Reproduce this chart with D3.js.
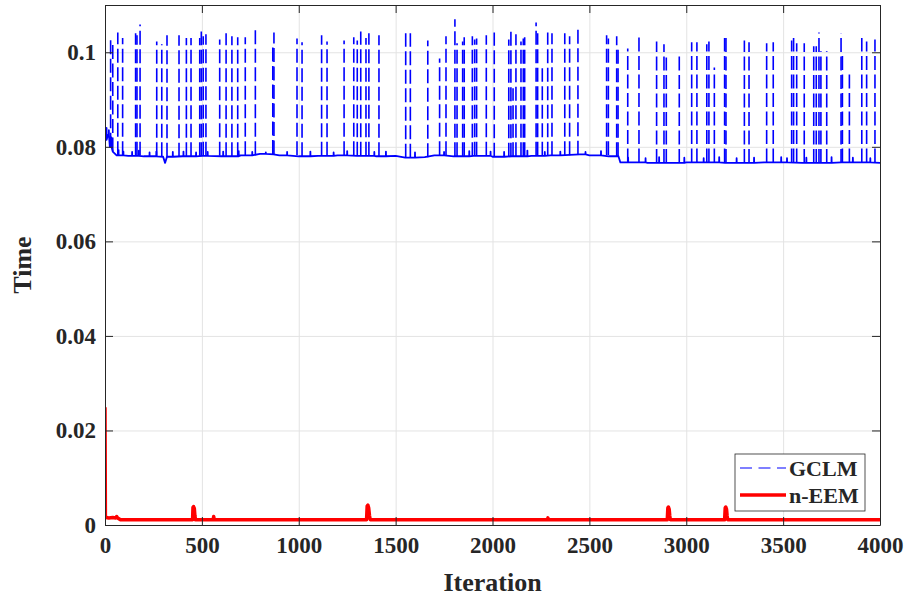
<!DOCTYPE html>
<html>
<head>
<meta charset="utf-8">
<script src="https://cdn.jsdelivr.net/npm/d3@7"></script>
<style>
  body { margin: 0; background: #fff; }
  svg { display: block; }
  text { font-family: "Liberation Serif", "Times New Roman", serif; font-weight: bold; fill: #262626; }
</style>
</head>
<body>
<svg id="chart" width="909" height="600"></svg>
<script>
// GCLM baseline readings (iteration, time)
const gclmBaseIter = [0, 15, 25, 40, 60, 120, 200, 300, 310, 320, 400, 500, 600, 700, 800, 870, 900, 1000, 1100, 1200, 1300, 1400, 1500, 1550, 1650, 1700, 1800, 1900, 2000, 2100, 2200, 2300, 2400, 2450, 2500, 2600, 2650, 2660, 2800, 3000, 3200, 3400, 3600, 3800, 4000];
const gclmBaseVal  = [0.0815, 0.0825, 0.0800, 0.0790, 0.0782, 0.0781, 0.0780, 0.0779, 0.0766, 0.0779, 0.0780, 0.0781, 0.0780, 0.0782, 0.0785, 0.0784, 0.0782, 0.0780, 0.0781, 0.0782, 0.0781, 0.0780, 0.0781, 0.0777, 0.0778, 0.0782, 0.0780, 0.0781, 0.0779, 0.0780, 0.0781, 0.0782, 0.0783, 0.0784, 0.0782, 0.0780, 0.0780, 0.0767, 0.0766, 0.0767, 0.0766, 0.0767, 0.0766, 0.0767, 0.0766];

// small bumps riding on the GCLM baseline
const gclmBlipIter = [8, 20, 33, 70, 95, 140, 175, 230, 265, 350, 405, 470, 530, 610, 690, 760, 830, 940, 1060, 1180, 1250, 1390, 1450, 1600, 1750, 1880, 1990, 2060, 2180, 2270, 2350, 2480, 2560, 2700, 2790, 2860, 2990, 3090, 3170, 3260, 3350, 3490, 3520, 3620, 3750, 3860, 3950];
const gclmBlipVal  = [0.0840, 0.0835, 0.0820, 0.0793, 0.0790, 0.0789, 0.0792, 0.0788, 0.0790, 0.0789, 0.0790, 0.0788, 0.0789, 0.0790, 0.0791, 0.0789, 0.0788, 0.0789, 0.0790, 0.0788, 0.0791, 0.0789, 0.0790, 0.0788, 0.0789, 0.0791, 0.0790, 0.0789, 0.0792, 0.0789, 0.0790, 0.0789, 0.0791, 0.0777, 0.0776, 0.0778, 0.0777, 0.0776, 0.0778, 0.0776, 0.0777, 0.0778, 0.0776, 0.0777, 0.0778, 0.0777, 0.0776];

// large GCLM spikes (iteration, peak time)
const gclmSpikeIter = [1, 29, 40, 66, 91, 158, 165, 181, 267, 293, 320, 382, 420, 444, 489, 497, 507, 521, 592, 625, 655, 685, 724, 776, 866, 872, 991, 1017, 1118, 1146, 1234, 1284, 1302, 1320, 1347, 1362, 1414, 1552, 1576, 1666, 1727, 1760, 1806, 1817, 1846, 1854, 1896, 1908, 1918, 1968, 2009, 2084, 2095, 2106, 2121, 2147, 2159, 2166, 2225, 2233, 2257, 2285, 2307, 2373, 2398, 2441, 2589, 2598, 2641, 2648, 2698, 2756, 2847, 2885, 2897, 2964, 3028, 3055, 3106, 3117, 3145, 3198, 3205, 3300, 3324, 3415, 3449, 3544, 3554, 3570, 3609, 3658, 3671, 3685, 3695, 3725, 3799, 3806, 3842, 3906, 3931, 3974];
const gclmSpikePeak = [0.1100, 0.1030, 0.1019, 0.1042, 0.1030, 0.1040, 0.1036, 0.1059, 0.1023, 0.1017, 0.1036, 0.1036, 0.1030, 0.1030, 0.1030, 0.1044, 0.1034, 0.1038, 0.1027, 0.1040, 0.1034, 0.1032, 0.1032, 0.1049, 0.1019, 0.1042, 0.1029, 0.1021, 0.1036, 0.1023, 0.1025, 0.1032, 0.1025, 0.1044, 0.1030, 0.1040, 0.1036, 0.1040, 0.1040, 0.1025, 0.0987, 0.1034, 0.1070, 0.1019, 0.1023, 0.1032, 0.1034, 0.1027, 0.1029, 0.1036, 0.1042, 0.1027, 0.1049, 0.0924, 0.1038, 0.1023, 0.1029, 0.1032, 0.1063, 0.1040, 0.0966, 0.1042, 0.1040, 0.1040, 0.1034, 0.1051, 0.1036, 0.1029, 0.1034, 0.1011, 0.1008, 0.1032, 0.1023, 0.1017, 0.0989, 0.0996, 0.1021, 0.1021, 0.1017, 0.1023, 0.0968, 0.1030, 0.1032, 0.1025, 0.1021, 0.1019, 0.1021, 0.1025, 0.1030, 0.1019, 0.1019, 0.1013, 0.1013, 0.1042, 0.1002, 0.1002, 0.1040, 0.1000, 0.0960, 0.1030, 0.1023, 0.1027];

// n-EEM readings (iteration, time)
const neemIter = [0, 2, 5, 20, 40, 55, 60, 65, 80, 300, 452, 454, 457, 461, 464, 467, 558, 561, 564, 1000, 1350, 1353, 1357, 1361, 1365, 1369, 2283, 2286, 2289, 2902, 2905, 2908, 2912, 2915, 2918, 3198, 3201, 3204, 3208, 3211, 3214, 4000];
const neemVal  = [0.0249, 0.0020, 0.0016, 0.0015, 0.0016, 0.0015, 0.0018, 0.0015, 0.0011, 0.0011, 0.0011, 0.0037, 0.0039, 0.0035, 0.0020, 0.0011, 0.0011, 0.0018, 0.0011, 0.0011, 0.0011, 0.0040, 0.0042, 0.0036, 0.0020, 0.0011, 0.0011, 0.0015, 0.0011, 0.0011, 0.0036, 0.0038, 0.0033, 0.0019, 0.0011, 0.0011, 0.0036, 0.0038, 0.0033, 0.0019, 0.0011, 0.0011];

const xTicks = [0, 500, 1000, 1500, 2000, 2500, 3000, 3500, 4000];
const yTicks = [0, 0.02, 0.04, 0.06, 0.08, 0.1];
const seriesNames = ["GCLM", "n-EEM"];

const pLeft = 105, pRight = 880, pTop = 5, pBottom = 525;
const svg = d3.select("#chart");

const x = d3.scaleLinear().domain([0, 4000]).range([pLeft, pRight]);
const y = d3.scaleLinear().domain([0, 0.11]).range([pBottom, pTop]);

// baseline level in force at a given iteration (last reading before it)
const baseAt = it => {
  const i = d3.bisectRight(gclmBaseIter, it) - 1;
  return gclmBaseVal[Math.max(i, 0)];
};

const basePts = gclmBaseIter.map((it, i) => [it, gclmBaseVal[i]]);
const blipPts = gclmBlipIter.flatMap((it, i) => {
  const foot = baseAt(it);
  return [[it - 0.4, foot], [it, gclmBlipVal[i]], [it + 0.4, foot]];
});
const gclmFloor = basePts.concat(blipPts).sort((a, b) => a[0] - b[0]);
const spikes = gclmSpikeIter.map((it, i) => ({ it, foot: baseAt(it), peak: gclmSpikePeak[i] }));
const neem = neemIter.map((it, i) => [it, neemVal[i]]);

// grid
svg.append("g")
  .attr("transform", `translate(0,${pBottom})`)
  .call(d3.axisBottom(x).tickValues(xTicks).tickSize(-(pBottom - pTop)).tickFormat(""))
  .call(g => g.select(".domain").remove())
  .selectAll("line").attr("stroke", "#e3e3e3");
svg.append("g")
  .attr("transform", `translate(${pLeft},0)`)
  .call(d3.axisLeft(y).tickValues(yTicks).tickSize(-(pRight - pLeft)).tickFormat(""))
  .call(g => g.select(".domain").remove())
  .selectAll("line").attr("stroke", "#e3e3e3");

svg.append("clipPath").attr("id", "clip")
  .append("rect").attr("x", pLeft).attr("y", pTop).attr("width", pRight - pLeft).attr("height", pBottom - pTop);

const line = d3.line().x(d => x(d[0])).y(d => y(d[1]));
const plot = svg.append("g").attr("clip-path", "url(#clip)");

// GCLM: dashed spikes rising from a jittery baseline
plot.selectAll("line.spike").data(spikes).join("line")
  .attr("class", "spike")
  .attr("x1", d => x(d.it)).attr("x2", d => x(d.it))
  .attr("y1", d => y(d.foot)).attr("y2", d => y(d.peak))
  .attr("stroke", "#0000ff").attr("stroke-width", 1.6)
  .attr("stroke-dasharray", "14,4.5");
plot.append("path").datum(gclmFloor)
  .attr("d", line).attr("fill", "none")
  .attr("stroke", "#0000ff").attr("stroke-width", 1.8)
  .attr("stroke-linejoin", "round");
plot.append("path").datum(neem)
  .attr("d", line).attr("fill", "none")
  .attr("stroke", "#ff0000").attr("stroke-width", 3.5)
  .attr("stroke-linejoin", "round");

// axes with inward ticks
const axisColor = "#262626";
svg.append("g")
  .attr("transform", `translate(0,${pBottom})`)
  .call(d3.axisBottom(x).tickValues(xTicks).tickSizeInner(-8).tickSizeOuter(0).tickPadding(12).tickFormat(d3.format("d")))
  .call(g => g.selectAll("text").style("font-size", "23px"))
  .call(g => g.selectAll("line,path").attr("stroke", axisColor));
svg.append("g")
  .attr("transform", `translate(${pLeft},0)`)
  .call(d3.axisLeft(y).tickValues(yTicks).tickSizeInner(-8).tickSizeOuter(0).tickPadding(9).tickFormat(d => d === 0 ? "0" : String(+d.toFixed(2))))
  .call(g => g.selectAll("text").style("font-size", "23px"))
  .call(g => g.selectAll("line,path").attr("stroke", axisColor));
svg.append("g")
  .attr("transform", `translate(0,${pTop})`)
  .call(d3.axisTop(x).tickValues(xTicks).tickSizeInner(-8).tickSizeOuter(0).tickFormat(""))
  .call(g => g.selectAll("line,path").attr("stroke", axisColor));
svg.append("g")
  .attr("transform", `translate(${pRight},0)`)
  .call(d3.axisRight(y).tickValues(yTicks).tickSizeInner(-8).tickSizeOuter(0).tickFormat(""))
  .call(g => g.selectAll("line,path").attr("stroke", axisColor));

// axis titles
svg.append("text")
  .attr("x", (pLeft + pRight) / 2).attr("y", 591)
  .attr("text-anchor", "middle").style("font-size", "26px")
  .text("Iteration");
svg.append("text")
  .attr("transform", `translate(31,${(pTop + pBottom) / 2}) rotate(-90)`)
  .attr("text-anchor", "middle").style("font-size", "26px")
  .text("Time");

// legend
const lg = svg.append("g");
lg.append("rect").attr("x", 735).attr("y", 454).attr("width", 130).attr("height", 57)
  .attr("fill", "#fff").attr("stroke", axisColor).attr("stroke-width", 0.8);
const lgStyle = [
  { color: "#0000ff", width: 1.2, dash: "12,6.5" },
  { color: "#ff0000", width: 3.5, dash: null }
];
seriesNames.forEach((name, i) => {
  const cy = 468 + i * 27;
  lg.append("line").attr("x1", 740).attr("x2", 786).attr("y1", cy).attr("y2", cy)
    .attr("stroke", lgStyle[i].color).attr("stroke-width", lgStyle[i].width)
    .attr("stroke-dasharray", lgStyle[i].dash);
  lg.append("text").attr("x", 789).attr("y", cy).attr("dy", "0.35em")
    .style("font-size", "22px").text(name);
});
</script>
</body>
</html>
